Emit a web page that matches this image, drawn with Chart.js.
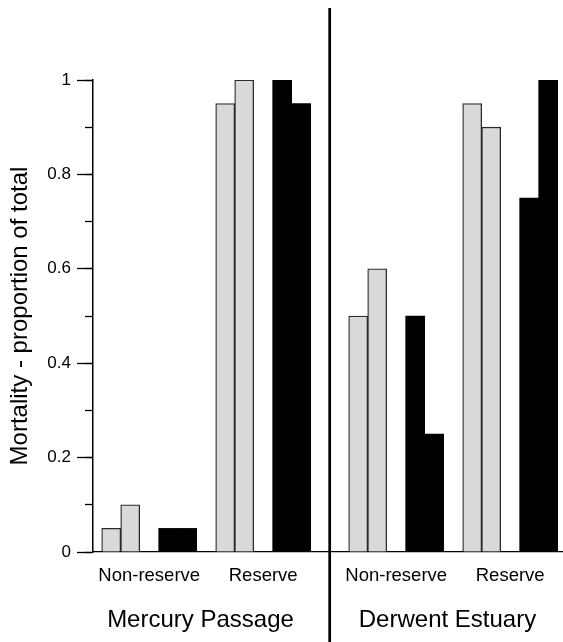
<!DOCTYPE html>
<html><head><meta charset="utf-8">
<script src="https://cdn.jsdelivr.net/npm/chart.js@4"></script>
<style>html,body{margin:0;padding:0;background:#fff}#wrap{width:563px;height:642px;position:relative}</style>
</head><body><div id="wrap"><canvas id="c"></canvas></div>
<script>
// ---- data ----
const sites = ["Mercury Passage", "Derwent Estuary"];
const zones = ["Non-reserve", "Reserve"];
// groups in order: Mercury Non-reserve, Mercury Reserve, Derwent Non-reserve, Derwent Reserve
const lightBars = [[0.05, 0.10], [0.95, 1.00], [0.50, 0.60], [0.95, 0.90]];
const darkBars  = [[0.05, 0.05], [1.00, 0.95], [0.50, 0.25], [0.75, 1.00]];
const yTicks = [0, 0.2, 0.4, 0.6, 0.8, 1];
const yTickLabels = ["0", "0.2", "0.4", "0.6", "0.8", "1"];
const yAxisTitle = "Mortality - proportion of total";

// ---- layout in slot units (one slot = one bar width) ----
const SITE_SLOTS = 13;   // 11 slots of bars + 2 slot gap
const ZONE_SLOTS = 6;    // 5 slots per group + 1 gap
function groupStart(g){ return Math.floor(g/2)*SITE_SLOTS + (g%2)*ZONE_SLOTS; }

const lightData = [], darkData = [];
lightBars.forEach((vals, g) => vals.forEach((v, k) => lightData.push({x: groupStart(g) + k + 0.5, y: v})));
darkBars.forEach((vals, g) => vals.forEach((v, k) => darkData.push({x: groupStart(g) + 3 + k + 0.5, y: v})));
const groupCenters = lightBars.map((_, g) => groupStart(g) + 2.5);
const groupLabels = lightBars.map((_, g) => zones[g % 2]);
const siteCenters = sites.map((_, s) => s*SITE_SLOTS + 5.2);
const dividerAt = SITE_SLOTS - 1;

const X_MIN = -0.458, X_MAX = 24.28;
const FONT = "'Liberation Sans', Arial, Helvetica, sans-serif";

const divider = {
  id: 'divider',
  afterDraw(chart){
    const x = chart.scales.x.getPixelForValue(dividerAt);
    const ctx = chart.ctx;
    ctx.save();
    ctx.strokeStyle = '#000';
    ctx.lineWidth = 2.7;
    ctx.beginPath();
    ctx.moveTo(x, 8);
    ctx.lineTo(x, chart.height);
    ctx.stroke();
    ctx.restore();
  }
};

new Chart(document.getElementById('c'), {
  type: 'bar',
  data: {
    datasets: [
      { label: 'light', data: lightData, backgroundColor: '#d9d9d9', borderColor: '#2a2a2a', borderWidth: 1.3, borderSkipped: 'start', grouped: false, barPercentage: 1, categoryPercentage: 1 },
      { label: 'dark', data: darkData, backgroundColor: '#000', borderColor: '#000', borderWidth: 0, grouped: false, barPercentage: 1, categoryPercentage: 1 }
    ]
  },
  options: {
    responsive: true,
    maintainAspectRatio: false,
    animation: false,
    devicePixelRatio: 1,
    layout: { padding: { top: 80, right: 0, bottom: 2, left: 0 } },
    plugins: { legend: { display: false }, tooltip: { enabled: false } },
    scales: {
      x: {
        type: 'linear', position: 'bottom', weight: 0, offset: false,
        min: X_MIN, max: X_MAX,
        grid: { display: false, drawTicks: false },
        border: { display: true, color: '#000', width: 1.3 },
        afterBuildTicks: (s) => { s.ticks = groupCenters.map(v => ({value: v})); },
        ticks: { autoSkip: false, maxRotation: 0, padding: 12.9, color: '#000',
          font: { family: FONT, size: 18.5 },
          callback: (v, i) => groupLabels[i] }
      },
      x2: {
        type: 'linear', position: 'bottom', weight: 1, offset: false,
        min: X_MIN, max: X_MAX,
        grid: { display: false, drawTicks: false },
        border: { display: false },
        afterBuildTicks: (s) => { s.ticks = siteCenters.map(v => ({value: v})); },
        ticks: { autoSkip: false, maxRotation: 0, padding: 5.6, color: '#000',
          font: { family: FONT, size: 24 },
          callback: (v, i) => sites[i] }
      },
      y: {
        type: 'linear', position: 'left', weight: 1, min: 0, max: 1,
        grid: { drawOnChartArea: false, drawTicks: true, tickLength: 16, tickColor: '#000', tickWidth: 1.3 },
        border: { display: true, color: '#000', width: 1.3 },
        afterBuildTicks: (s) => { s.ticks = yTicks.map(v => ({value: v})); },
        afterFit: (s) => { s.width = 93; },
        ticks: { padding: 6, color: '#000', font: { family: FONT, size: 17 },
          callback: (v, i) => yTickLabels[i] },
        title: { display: true, text: yAxisTitle, color: '#000', padding: { top: 5.6, bottom: 0 },
          font: { family: FONT, size: 24 } }
      },
      yMinor: {
        type: 'linear', position: 'left', weight: 0, min: 0, max: 1,
        grid: { drawOnChartArea: false, drawTicks: true, tickLength: 8, tickColor: '#000', tickWidth: 1.3 },
        border: { display: true, color: '#000', width: 1.3 },
        ticks: { display: false, stepSize: 0.1 },
        afterFit: (s) => { s.width = 0; }
      }
    }
  },
  plugins: [divider]
});
</script>
</body></html>
